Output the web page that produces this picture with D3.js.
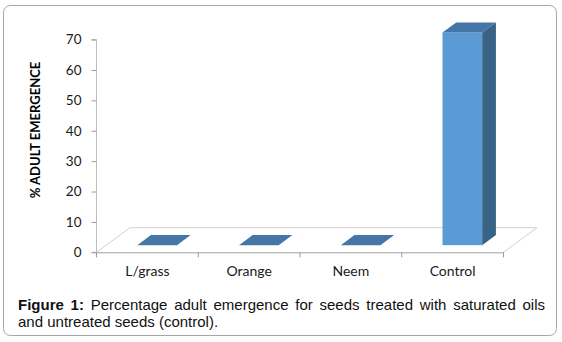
<!DOCTYPE html>
<html><head><meta charset="utf-8">
<script src="https://cdn.jsdelivr.net/npm/d3@7"></script>
<style>html,body{margin:0;padding:0;background:#fff;}svg{display:block;}</style>
</head><body>
<svg id="chart" width="562" height="342"></svg>
<script>
const categories = ["L/grass", "Orange", "Neem", "Control"];
const values = [0, 0, 0, 70];
const yTicks = [0, 10, 20, 30, 40, 50, 60, 70];
const yTitle = "% ADULT EMERGENCE";
const captionBold = "Figure 1:";
const captionLine1 = " Percentage adult emergence for seeds treated with saturated oils";
const captionLine2 = "and untreated seeds (control).";

const svg = d3.select("#chart");
svg.append("rect").attr("x", 3.5).attr("y", 5.5).attr("width", 553).attr("height", 330)
  .attr("rx", 7).attr("fill", "#fff").attr("stroke", "#a6a6a6").attr("stroke-width", 1);

const x = d3.scaleBand().domain(categories).range([96.5, 503.5]).padding(0);
const y = d3.scaleLinear().domain([0, 70]).range([252.3, 39.6]);
const DX = 33.5, DY = -24.6;           // full floor depth offset
const d0 = 0.29, d1 = 0.70;            // bar depth (fraction of floor depth)
const barFrac = 0.39;

const gray = "#bfbfbf";
const fl = [[x.range()[0], y(0)], [x.range()[1], y(0)], [x.range()[1] + DX, y(0) + DY], [x.range()[0] + DX, y(0) + DY]];
svg.append("path").attr("d", "M" + fl[1].join(",") + "L" + fl[2].join(",") + "L" + fl[3].join(",") + "L" + fl[0].join(","))
  .attr("fill", "none").attr("stroke", "#d0d0d0").attr("stroke-width", 1);

const bars = svg.append("g");
categories.forEach((c, i) => {
  const v = values[i];
  const bw = x.bandwidth() * barFrac;
  const xl = x(c) + x.bandwidth() / 2 - bw / 2 + d0 * DX;
  const xr = xl + bw;
  const fy0 = y(0) + d0 * DY, fy1 = y(v) + d0 * DY;
  const ddx = (d1 - d0) * DX, ddy = (d1 - d0) * DY;
  if (v > 0) {
    bars.append("rect").attr("x", xl).attr("y", fy1).attr("width", bw).attr("height", fy0 - fy1).attr("fill", "#5b9bd5");
    bars.append("path").attr("d", `M${xr},${fy1}L${xr + ddx},${fy1 + ddy}L${xr + ddx},${fy0 + ddy}L${xr},${fy0}Z`).attr("fill", "#386386");
  }
  bars.append("path").attr("d", `M${xl},${fy1}L${xr},${fy1}L${xr + ddx},${fy1 + ddy}L${xl + ddx},${fy1 + ddy}Z`)
    .attr("fill", "#4676a5");
});

const yAxis = d3.axisLeft(y).tickValues(yTicks).tickSize(5).tickPadding(10).tickFormat(d3.format("d"));
const gy = svg.append("g").attr("transform", "translate(96.5,0)").call(yAxis);
gy.select(".domain").attr("stroke", gray).attr("d", `M-5,${y(0)}H0V${y(70)}H-5`);
gy.selectAll(".tick line").attr("stroke", "#9a9a9a");
gy.selectAll("text").attr("font-family", "Lato, 'Open Sans', sans-serif").attr("font-size", 13.5).attr("fill", "#1a1a1a");

const xAxis = d3.axisBottom(x).tickSize(0).tickPadding(14);
const gx = svg.append("g").attr("transform", `translate(0,${y(0)})`).call(xAxis);
gx.select(".domain").attr("stroke", "#a0a0a0");
gx.selectAll("text").attr("font-family", "Lato, 'Open Sans', sans-serif").attr("font-size", 14).attr("fill", "#1a1a1a");
const seps = [x.range()[0]].concat(categories.map(c => x(c) + x.bandwidth()));
gx.selectAll(".sep").data(seps).enter().append("line").attr("class", "sep")
  .attr("x1", d => d).attr("x2", d => d).attr("y1", 0).attr("y2", 5).attr("stroke", "#9a9a9a");

svg.append("text").attr("transform", "translate(40,130) rotate(-90)").attr("text-anchor", "middle")
  .attr("font-family", "Lato, 'Open Sans', sans-serif").attr("font-weight", "bold").attr("font-size", 13)
  .attr("fill", "#000").text(yTitle);

const capX = 18, capR = 545;
const t1 = svg.append("text").attr("x", capX).attr("y", 309.5)
  .attr("font-family", "'Liberation Sans', Arial, sans-serif").attr("font-size", 15).attr("fill", "#111");
t1.append("tspan").attr("font-weight", "bold").text(captionBold);
t1.append("tspan").text(captionLine1);
const natural = t1.node().getComputedTextLength();
const spaces = (captionBold + captionLine1).split(" ").length - 1;
const extra = Math.max(0, (capR - capX - natural) / spaces);
t1.attr("word-spacing", extra);
svg.append("text").attr("x", capX).attr("y", 327)
  .attr("font-family", "'Liberation Sans', Arial, sans-serif").attr("font-size", 15).attr("fill", "#111")
  .text(captionLine2);
</script>
</body></html>
